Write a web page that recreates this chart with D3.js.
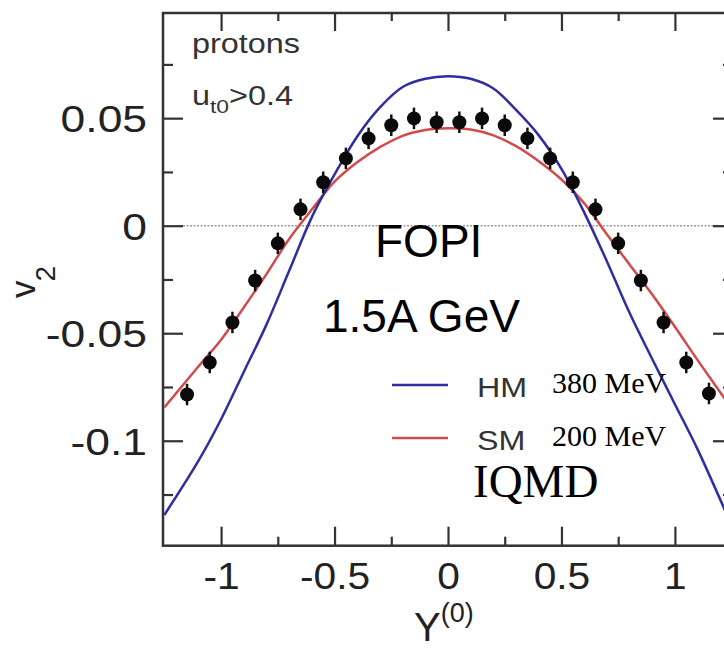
<!DOCTYPE html>
<html>
<head>
<meta charset="utf-8">
<script src="https://cdn.jsdelivr.net/npm/d3@7"></script>
<style>
  body { margin: 0; background: #fff; }
  svg { display: block; }
</style>
</head>
<body>
<svg width="724" height="650"></svg>
<script>
// FOPI data points, protons, 1.5A GeV
const rapidity = [-1.15, -1.05, -0.95, -0.85, -0.75, -0.65, -0.55, -0.45, -0.35, -0.25, -0.15, -0.05,
                  0.05, 0.15, 0.25, 0.35, 0.45, 0.55, 0.65, 0.75, 0.85, 0.95, 1.05, 1.15];
const v2Data = [-0.0785, -0.0636, -0.045, -0.0255, -0.0082, 0.0076, 0.0202, 0.0313, 0.0406, 0.0467, 0.0499, 0.0481,
                0.0481, 0.0499, 0.0467, 0.0406, 0.0313, 0.0202, 0.0076, -0.0082, -0.0255, -0.045, -0.0636, -0.078];
const v2Err = [0.005, 0.005, 0.005, 0.005, 0.005, 0.005, 0.005, 0.005, 0.005, 0.005, 0.005, 0.005,
               0.005, 0.005, 0.005, 0.005, 0.005, 0.005, 0.005, 0.005, 0.005, 0.005, 0.005, 0.005];

// IQMD curves
const curveY = [-1.25, -1.1, -1.0, -0.9, -0.8, -0.7, -0.6, -0.5, -0.4, -0.3, -0.2, -0.1, 0,
                0.1, 0.2, 0.3, 0.4, 0.5, 0.6, 0.7, 0.8, 0.9, 1.0, 1.1, 1.25];
const hmValues = [-0.1345, -0.1094, -0.090, -0.068, -0.046, -0.021, 0.004, 0.0238, 0.0415, 0.055, 0.0645, 0.0683, 0.0695,
                  0.0683, 0.0638, 0.0538, 0.042, 0.0264, 0.0062, -0.0165, -0.0405, -0.062, -0.083, -0.104, -0.1395];
const smValues = [-0.0845, -0.0655, -0.053, -0.038, -0.0225, -0.0062, 0.0075, 0.0205, 0.0295, 0.0365, 0.0418, 0.0445, 0.0453,
                  0.0447, 0.042, 0.037, 0.030, 0.0215, 0.0105, -0.004, -0.018, -0.032, -0.047, -0.0625, -0.085];

const xMajor = [-1, -0.5, 0, 0.5, 1];
const xMinor = [-0.75, -0.25, 0.25, 0.75];
const yMajor = [-0.1, -0.05, 0, 0.05];
const yMinor = [-0.125, -0.075, -0.025, 0.025, 0.075];

const legendItems = [
    { key: "HM", energy: "380 MeV", color: "#2e2ea0" },
    { key: "SM", energy: "200 MeV", color: "#d24a4a" }
];

const svg = d3.select('svg');
const margens = { left: 163, top: 13, right: 733, bottom: 545.7 };
const sans = "'Liberation Sans', Arial, Helvetica, sans-serif";
const serif = "'Liberation Serif', 'Times New Roman', serif";

const x = d3.scaleLinear().domain([-1.256, 1.256]).range([margens.left, margens.right]);
const y = d3.scaleLinear().domain([-0.1488, 0.0989]).range([margens.bottom, margens.top]);

// stretch text horizontally like the original figure
function stretch(sel, k) {
    sel.each(function () {
        const w = this.getComputedTextLength();
        d3.select(this).attr("textLength", w * k).attr("lengthAdjust", "spacingAndGlyphs");
    });
}

const fmt = d => d === 0 ? "0" : String(d);

function styleAxis(g) {
    g.select(".domain").remove();
    g.selectAll(".tick line").attr("stroke", "#333").attr("stroke-width", 2.2);
}

// zero line
svg.append("line")
    .attr("x1", margens.left + 20).attr("x2", margens.right)
    .attr("y1", y(0)).attr("y2", y(0))
    .attr("stroke", "#999").attr("stroke-width", 1.5).attr("stroke-dasharray", "2,1.5");

// axes
const axLeft = svg.append("g").attr("transform", `translate(${margens.left},0)`)
    .call(d3.axisLeft(y).tickValues(yMajor).tickSize(-20).tickPadding(16).tickFormat(fmt));
axLeft.call(styleAxis);
axLeft.selectAll("text").attr("font-family", sans).attr("font-size", 37).attr("fill", "#222").attr("dy", "0.36em");
stretch(axLeft.selectAll("text"), 1.2);
svg.append("g").attr("transform", `translate(${margens.left},0)`)
    .call(d3.axisLeft(y).tickValues(yMinor).tickSize(-10).tickFormat(""))
    .call(styleAxis);

svg.append("g").attr("transform", `translate(${margens.right},0)`)
    .call(d3.axisRight(y).tickValues(yMajor).tickSize(-20).tickFormat(""))
    .call(styleAxis);
svg.append("g").attr("transform", `translate(${margens.right},0)`)
    .call(d3.axisRight(y).tickValues(yMinor).tickSize(-10).tickFormat(""))
    .call(styleAxis);

const axBottom = svg.append("g").attr("transform", `translate(0,${margens.bottom})`)
    .call(d3.axisBottom(x).tickValues(xMajor).tickSize(-19).tickPadding(17).tickFormat(fmt));
axBottom.call(styleAxis);
axBottom.selectAll("text").attr("font-family", sans).attr("font-size", 37).attr("fill", "#222");
stretch(axBottom.selectAll("text"), 1.1);
svg.append("g").attr("transform", `translate(0,${margens.bottom})`)
    .call(d3.axisBottom(x).tickValues(xMinor).tickSize(-9).tickFormat(""))
    .call(styleAxis);

svg.append("g").attr("transform", `translate(0,${margens.top})`)
    .call(d3.axisTop(x).tickValues(xMajor).tickSize(-18).tickFormat(""))
    .call(styleAxis);
svg.append("g").attr("transform", `translate(0,${margens.top})`)
    .call(d3.axisTop(x).tickValues(xMinor).tickSize(-8).tickFormat(""))
    .call(styleAxis);

// frame
svg.append("rect")
    .attr("x", margens.left).attr("y", margens.top)
    .attr("width", margens.right - margens.left).attr("height", margens.bottom - margens.top)
    .attr("fill", "none").attr("stroke", "#333").attr("stroke-width", 2.5);

// model curves
const line = d3.line()
    .x(d => x(d[0]))
    .y(d => y(d[1]))
    .curve(d3.curveCatmullRom);

const plot = svg.append("g");
plot.append("path")
    .datum(curveY.map((c, i) => [c, smValues[i]]))
    .attr("d", line).attr("fill", "none")
    .attr("stroke", legendItems[1].color).attr("stroke-width", 2.5);
plot.append("path")
    .datum(curveY.map((c, i) => [c, hmValues[i]]))
    .attr("d", line).attr("fill", "none")
    .attr("stroke", legendItems[0].color).attr("stroke-width", 2.5);

// data points with error bars
const pts = rapidity.map((r, i) => ({ r: r, v: v2Data[i], e: v2Err[i] }));
plot.append("g").selectAll("line")
    .data(pts)
    .join("line")
        .attr("x1", d => x(d.r)).attr("x2", d => x(d.r))
        .attr("y1", d => y(d.v + d.e)).attr("y2", d => y(d.v - d.e))
        .attr("stroke", "#111").attr("stroke-width", 2.5);
plot.append("g").selectAll("circle")
    .data(pts)
    .join("circle")
        .attr("cx", d => x(d.r)).attr("cy", d => y(d.v))
        .attr("r", 7).attr("fill", "#0a0a0a");

// labels inside the frame
const t1 = svg.append("text").attr("x", 192).attr("y", 53)
    .attr("font-family", sans).attr("font-size", 27).attr("fill", "#333").text("protons");
stretch(t1, 1.2);
const t2 = svg.append("text").attr("x", 192).attr("y", 105)
    .attr("font-family", sans).attr("font-size", 27).attr("fill", "#333");
t2.append("tspan").text("u");
t2.append("tspan").attr("font-size", 19).attr("dy", 8).text("t0");
t2.append("tspan").attr("dy", -8).text(">0.4");
stretch(t2, 1.2);

svg.append("text").attr("x", 375).attr("y", 257)
    .attr("font-family", sans).attr("font-size", 46).attr("fill", "#000").text("FOPI");
svg.append("text").attr("x", 323).attr("y", 332)
    .attr("font-family", sans).attr("font-size", 46).attr("fill", "#000").text("1.5A GeV");

// legend
const legend = svg.append("g");
legendItems.forEach((item, i) => {
    const ly = 385 + i * 53;
    legend.append("line")
        .attr("x1", 392).attr("x2", 448).attr("y1", ly).attr("y2", ly)
        .attr("stroke", item.color).attr("stroke-width", 2.5);
    const lt = legend.append("text").attr("x", 477).attr("y", ly + 12)
        .attr("font-family", sans).attr("font-size", 28).attr("fill", "#333").text(item.key);
    stretch(lt, 1.15);
    legend.append("text").attr("x", 552).attr("y", ly + 8)
        .attr("font-family", serif).attr("font-size", 30).attr("fill", "#000").text(item.energy);
});
svg.append("text").attr("x", 473).attr("y", 497)
    .attr("font-family", serif).attr("font-size", 47).attr("fill", "#000").text("IQMD");

// axis titles
const yTitle = svg.append("text")
    .attr("transform", "translate(35,298) rotate(-90)")
    .attr("font-family", sans).attr("font-size", 35).attr("fill", "#222");
yTitle.append("tspan").text("v");
yTitle.append("tspan").attr("font-size", 28).attr("dy", 20).attr("dx", -1).text("2");

const xTitle = svg.append("text").attr("x", 414).attr("y", 641)
    .attr("font-family", sans).attr("font-size", 40).attr("fill", "#222");
xTitle.append("tspan").text("Y");
xTitle.append("tspan").attr("font-size", 27).attr("dy", -19).text("(0)");
</script>
</body>
</html>
